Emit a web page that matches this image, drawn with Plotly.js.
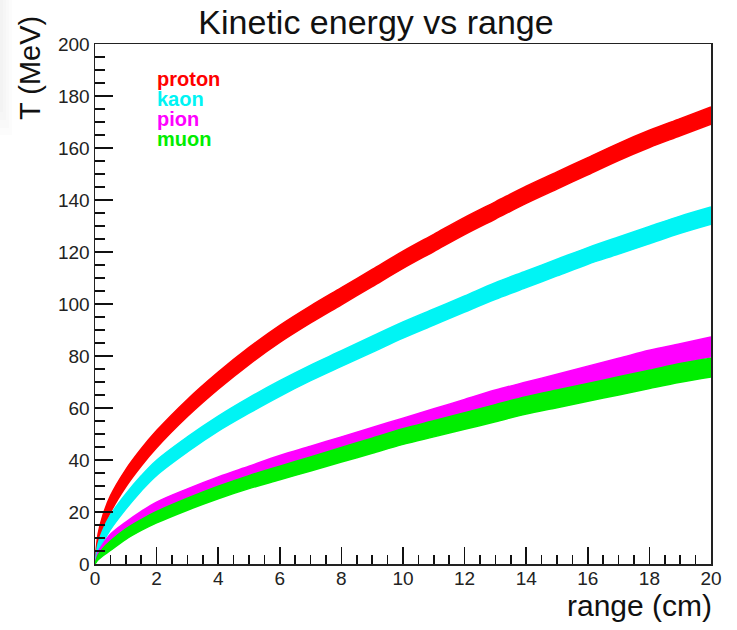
<!DOCTYPE html>
<html>
<head>
<meta charset="utf-8">
<script src="https://cdn.plot.ly/plotly-3.0.1.min.js"></script>
<style>
  html, body { margin: 0; padding: 0; background: #ffffff; }
  #chart { width: 737px; height: 630px; }
</style>
</head>
<body>
<div id="chart"></div>
<script>
// range (cm) sample positions
const rangeCm = [0, 0.1, 0.25, 0.5, 1, 1.5, 2, 3, 4, 5, 6, 7, 8, 9, 10, 11, 12, 13, 14, 15, 16, 17, 18, 19, 20];

// kinetic energy T (MeV): centre of each scattered band
const protonT = [0, 9, 15.5, 23, 33, 41, 48, 60, 70.5, 80, 88.5, 96, 103, 110, 117, 123.5, 130, 136, 142, 147.5, 153, 158.5, 163.5, 168, 172.5];
const kaonT   = [0, 6, 10.5, 16, 24, 31, 37, 46, 54, 61, 67.5, 73.5, 79, 84.5, 90, 95, 100, 105, 109.5, 114, 118.5, 122.5, 126.5, 130.5, 134];
const pionT   = [0, 3.5, 6, 9.5, 14, 18, 21.5, 26.5, 31, 35, 39, 42.5, 46, 49.5, 53, 56.5, 60, 63.5, 66.5, 69.5, 72.5, 75.5, 78.5, 81, 83.5];
const muonT   = [0, 2.5, 4.5, 7, 11.5, 15, 18, 23, 27.5, 31.5, 35, 38.5, 42, 45.5, 49, 52, 55, 58, 61, 63.5, 66, 68.5, 71, 73.5, 75.5];

// half-width of each band (MeV)
const protonSpread = [0, 2.5, 3, 3.2, 3.3, 3.3, 3.3, 3.3, 3.3, 3.3, 3.3, 3.3, 3.3, 3.3, 3.3, 3.3, 3.3, 3.3, 3.3, 3.3, 3.3, 3.3, 3.3, 3.3, 3.3];
const kaonSpread   = [0, 1.8, 2.4, 2.8, 2.9, 2.9, 2.9, 2.9, 2.9, 3, 3, 3, 3, 3.1, 3.1, 3.1, 3.1, 3.2, 3.2, 3.2, 3.2, 3.3, 3.3, 3.3, 3.3];
const pionSpread   = [0, 1, 1.5, 1.9, 2.1, 2.2, 2.3, 2.4, 2.5, 2.6, 2.7, 2.8, 2.9, 3, 3.1, 3.2, 3.3, 3.4, 3.5, 3.5, 3.6, 3.6, 3.7, 3.7, 3.8];
const muonSpread   = [0, 0.9, 1.4, 1.8, 2, 2.1, 2.2, 2.3, 2.4, 2.5, 2.6, 2.7, 2.8, 2.9, 3, 3.1, 3.2, 3.3, 3.3, 3.4, 3.4, 3.5, 3.5, 3.6, 3.6];

const seriesNames = ["proton", "kaon", "pion", "muon"];
const seriesValues = [protonT, kaonT, pionT, muonT];
const seriesSpreads = [protonSpread, kaonSpread, pionSpread, muonSpread];
const seriesColors = ["#ff0000", "#00f4f4", "#ff00ff", "#00ee00"];

const titleText = "Kinetic energy vs range";
const xTitleText = "range (cm)";
const yTitleText = "T (MeV)";

// plot-area geometry in pixels
const W = 737, H = 630;
const L = 95, R = 711, T = 44, B = 564;
const pw = R - L, ph = B - T;
const px = v => (v - L) / pw;
const py = v => (B - v) / ph;

const traces = [];
seriesNames.forEach((name, i) => {
  const c = seriesValues[i], s = seriesSpreads[i];
  const lower = c.map((v, k) => v - s[k]);
  const upper = c.map((v, k) => v + s[k]);
  traces.push({
    type: "scatter", mode: "lines", name: name,
    x: rangeCm, y: lower,
    line: { color: seriesColors[i], width: 1.5, shape: "spline", smoothing: 1 },
    showlegend: false, hoverinfo: "skip"
  });
  traces.push({
    type: "scatter", mode: "lines", name: name,
    x: rangeCm, y: upper,
    fill: "tonexty", fillcolor: seriesColors[i],
    line: { color: seriesColors[i], width: 1.5, shape: "spline", smoothing: 1 },
    showlegend: false, hoverinfo: "skip"
  });
});

const baseFont = "Liberation Sans, Arial, Helvetica, sans-serif";
const legendY = [79, 99, 119, 139];
const annotations = seriesNames.map((name, i) => ({
  xref: "paper", yref: "paper",
  x: px(156), y: py(legendY[i]),
  xanchor: "left", yanchor: "middle",
  text: "<b>" + name + "</b>",
  showarrow: false, borderpad: 0,
  font: { family: baseFont, size: 20, color: seriesColors[i] }
}));

annotations.push({
  xref: "paper", yref: "paper",
  x: 1, y: py(605), xshift: 2,
  xanchor: "right", yanchor: "middle",
  text: xTitleText, showarrow: false, borderpad: 0,
  font: { family: baseFont, size: 30, color: "#111" }
});
annotations.push({
  xref: "paper", yref: "paper",
  x: px(30), y: py(68),
  xanchor: "center", yanchor: "middle",
  textangle: -90,
  text: yTitleText, showarrow: false, borderpad: 0,
  font: { family: baseFont, size: 29, color: "#111" }
});

const tickFont = { family: baseFont, size: 19, color: "#222" };

// soft grey shadow in the top-left corner of the reference
const shadeSteps = [[12, 135], [9, 128], [6, 120], [3, 112]];
const shapes = shadeSteps.map(([w, h]) => ({
  type: "rect", xref: "paper", yref: "paper",
  x0: px(0), x1: px(w), y0: py(h), y1: py(0),
  fillcolor: "rgba(0,0,0,0.012)", line: { width: 0 }, layer: "below"
}));

const layout = {
  width: W, height: H,
  margin: { l: L, r: W - R, t: T, b: H - B, pad: 0 },
  paper_bgcolor: "#ffffff",
  plot_bgcolor: "#ffffff",
  title: {
    text: titleText,
    x: 376 / W, xanchor: "center",
    y: 1 - 22 / H, yanchor: "middle", yref: "container",
    font: { family: baseFont, size: 34, color: "#111" }
  },
  xaxis: {
    range: [0, 20],
    tick0: 0, dtick: 2,
    ticks: "inside", ticklen: 17, tickwidth: 1.5, tickcolor: "#111",
    minor: { dtick: 0.5, ticks: "inside", ticklen: 9, tickwidth: 1.5, tickcolor: "#111" },
    showline: true, linecolor: "#222", linewidth: 1.5, mirror: true,
    showgrid: false, zeroline: false,
    ticklabelstandoff: -3,
    tickfont: tickFont
  },
  yaxis: {
    range: [0, 200],
    tick0: 0, dtick: 20,
    ticks: "inside", ticklen: 18, tickwidth: 1.5, tickcolor: "#111",
    minor: { dtick: 5, ticks: "inside", ticklen: 10, tickwidth: 1.5, tickcolor: "#111" },
    showline: true, linecolor: "#222", linewidth: 1.5, mirror: true,
    showgrid: false, zeroline: false,
    tickfont: tickFont
  },
  shapes: shapes,
  annotations: annotations
};

Plotly.newPlot("chart", traces, layout, { displayModeBar: false, staticPlot: true });
</script>
</body>
</html>
